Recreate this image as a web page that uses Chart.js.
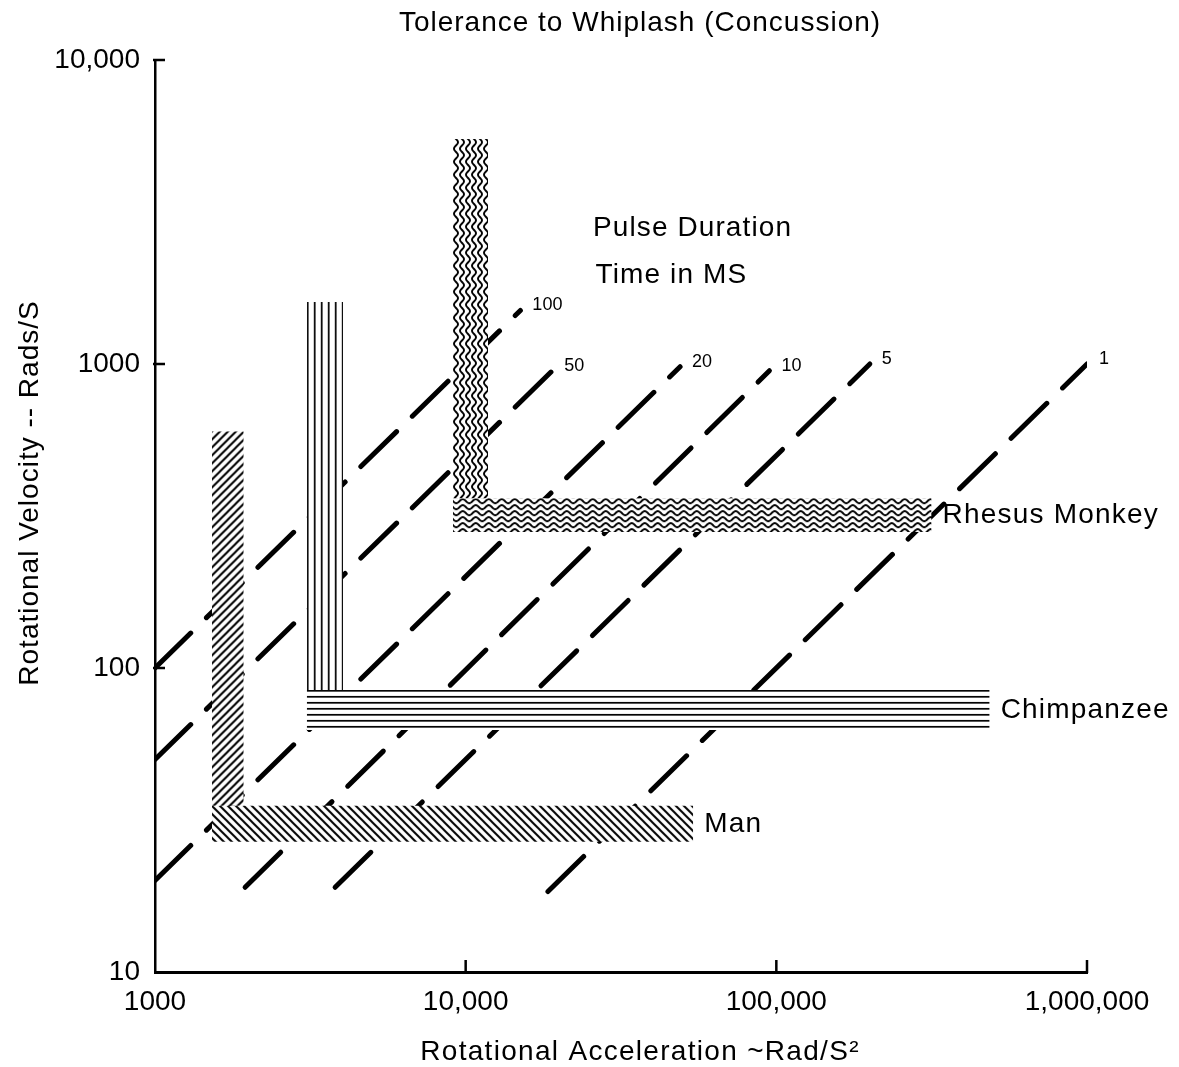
<!DOCTYPE html>
<html>
<head>
<meta charset="utf-8">
<title>Tolerance to Whiplash (Concussion)</title>
<script src="https://cdn.jsdelivr.net/npm/chart.js@4.4.1/dist/chart.umd.min.js"></script>
<style>
  html, body { margin: 0; padding: 0; background: #fff; }
  #wrap { width: 1179px; height: 1067px; }
</style>
</head>
<body>
<div id="wrap"><canvas id="whiplashChart" width="1179" height="1067"></canvas></div>
<script>
// axis ticks
const xTickValues = [1000, 10000, 100000, 1000000];
const xTickLabels = ['1000', '10,000', '100,000', '1,000,000'];
const yTickValues = [10, 100, 1000, 10000];
const yTickLabels = ['10', '100', '1000', '10,000'];

// lines of constant pulse duration (ms), end points
const pulseLabels = ['100', '50', '20', '10', '5', '1'];
const pulseStartAccel = [1000, 1000, 1000, 1950, 3800, 18400];
const pulseStartVel = [100, 50, 20, 19, 19, 18.4];
const pulseEndAccel = [15000, 19000, 49000, 95000, 200000, 1000000];
const pulseEndVel = [1500, 950, 980, 950, 1000, 1000];

// tolerance bands (L shaped)
const species = ['Rhesus Monkey', 'Chimpanzee', 'Man'];
const accelFrom = [9100, 3080, 1525];
const accelTo = [11800, 4030, 1930];
const accelEnd = [316000, 486000, 54000];
const velTop = [5500, 1600, 600];
const velHigh = [362, 84.7, 35.2];
const velLow = [280, 62.5, 26.8];

// free text
const noteText = ['Pulse Duration', 'Time in MS'];
const noteAccel = [25700, 26200];
const noteVel = [2800, 1960];

const FONT = '"Liberation Sans", Arial, Helvetica, sans-serif';

function tile(w, h, draw) {
  const c = document.createElement('canvas');
  c.width = w;
  c.height = h;
  const g = c.getContext('2d');
  g.fillStyle = '#fff';
  g.fillRect(0, 0, w, h);
  g.strokeStyle = '#000';
  g.fillStyle = '#000';
  draw(g, w, h);
  return g.createPattern(c, 'repeat');
}

const hatchUp = tile(8, 8, (g, s) => {
  g.lineWidth = 2;
  g.beginPath();
  for (let k = -1; k <= 1; k++) {
    g.moveTo(k * s - 1, s + 1);
    g.lineTo(k * s + s + 1, -1);
  }
  g.stroke();
});
const hatchDown = tile(8, 8, (g, s) => {
  g.lineWidth = 2;
  g.beginPath();
  for (let k = -1; k <= 1; k++) {
    g.moveTo(k * s - 1, -1);
    g.lineTo(k * s + s + 1, s + 1);
  }
  g.stroke();
});
const waveH = tile(13, 6, (g, w, h) => {
  g.lineWidth = 1.9;
  g.beginPath();
  for (let x = -2; x <= w + 2; x += 0.5) {
    const y = h / 2 + 2 * Math.sin(x / w * 2 * Math.PI);
    if (x === -2) g.moveTo(x, y); else g.lineTo(x, y);
  }
  g.stroke();
});
const waveV = tile(6, 13, (g, w, h) => {
  g.lineWidth = 1.9;
  g.beginPath();
  for (let y = -2; y <= h + 2; y += 0.5) {
    const x = w / 2 + 2 * Math.sin(y / h * 2 * Math.PI);
    if (y === -2) g.moveTo(x, y); else g.lineTo(x, y);
  }
  g.stroke();
});
const linesV = tile(7, 4, (g, w, h) => g.fillRect(0, 0, 1.7, h));
const linesH = tile(4, 6, (g, w, h) => g.fillRect(0, 0, w, 1.7));

const vertPatterns = [waveV, linesV, hatchUp];
const horizPatterns = [waveH, linesH, hatchDown];

const datasets = [];
pulseLabels.forEach((lab, i) => {
  datasets.push({
    label: lab + ' ms',
    data: [{x: pulseStartAccel[i], y: pulseStartVel[i]}, {x: pulseEndAccel[i], y: pulseEndVel[i]}],
    borderColor: '#000',
    borderWidth: 5,
    borderDash: [50, 22],
    borderCapStyle: 'round',
    pointRadius: 0,
    fill: false,
    order: 2
  });
});
species.forEach((name, i) => {
  datasets.push({
    label: name + ' velocity limb',
    data: [{x: accelFrom[i], y: velTop[i]}, {x: accelTo[i], y: velTop[i]}],
    fill: {value: velHigh[i]},
    backgroundColor: vertPatterns[i],
    borderColor: 'rgba(0,0,0,0)',
    borderWidth: 1,
    pointRadius: 0,
    order: 1
  });
  datasets.push({
    label: name + ' acceleration limb',
    data: [{x: accelFrom[i], y: velHigh[i]}, {x: accelEnd[i], y: velHigh[i]}],
    fill: {value: velLow[i]},
    backgroundColor: horizPatterns[i],
    borderColor: 'rgba(0,0,0,0)',
    borderWidth: 1,
    pointRadius: 0,
    order: 1
  });
});

function text(ctx, str, x, y, size, align, spacing) {
  ctx.save();
  ctx.fillStyle = '#000';
  ctx.font = size + 'px ' + FONT;
  ctx.letterSpacing = (spacing || 0) + 'px';
  ctx.textAlign = align || 'left';
  ctx.textBaseline = 'middle';
  ctx.fillText(str, x, y);
  ctx.restore();
}

const whiplashPlugin = {
  id: 'whiplash',
  beforeDatasetsDraw(chart) {
    const xs = chart.scales.x, ys = chart.scales.y;
    species.forEach((name, i) => {
      const left = xs.getPixelForValue(accelFrom[i]);
      vertPatterns[i].setTransform(new DOMMatrix([1, 0, 0, 1, left, ys.getPixelForValue(velTop[i])]));
      horizPatterns[i].setTransform(new DOMMatrix([1, 0, 0, 1, left, ys.getPixelForValue(velHigh[i])]));
    });
  },
  afterDatasetsDraw(chart) {
    const ctx = chart.ctx, xs = chart.scales.x, ys = chart.scales.y;
    pulseLabels.forEach((lab, i) => {
      text(ctx, lab, xs.getPixelForValue(pulseEndAccel[i]) + 12, ys.getPixelForValue(pulseEndVel[i]) - 5, 18);
    });
    species.forEach((name, i) => {
      const y = (ys.getPixelForValue(velHigh[i]) + ys.getPixelForValue(velLow[i])) / 2;
      text(ctx, name, xs.getPixelForValue(accelEnd[i]) + 11, y, 28, 'left', 1.2);
    });
    noteText.forEach((str, i) => {
      text(ctx, str, xs.getPixelForValue(noteAccel[i]), ys.getPixelForValue(noteVel[i]), 28, 'left', 1.1);
    });
  },
  afterDraw(chart) {
    const ctx = chart.ctx, xs = chart.scales.x, ys = chart.scales.y;
    const area = chart.chartArea;
    ctx.save();
    ctx.strokeStyle = '#000';
    ctx.lineWidth = 2.5;
    ctx.beginPath();
    yTickValues.slice(1).forEach(v => {
      const py = ys.getPixelForValue(v);
      ctx.moveTo(area.left - 2, py);
      ctx.lineTo(area.left + 10, py);
    });
    xTickValues.slice(1).forEach(v => {
      const px = xs.getPixelForValue(v);
      ctx.moveTo(px, area.bottom + 1);
      ctx.lineTo(px, area.bottom - 12);
    });
    ctx.stroke();
    ctx.restore();

    text(ctx, 'Tolerance to Whiplash (Concussion)', 640, 23, 28, 'center', 1);
    text(ctx, 'Rotational Acceleration ~Rad/S\u00b2', 640, 1052, 28, 'center', 1.3);
    ctx.save();
    ctx.translate(30, 493);
    ctx.rotate(-Math.PI / 2);
    text(ctx, 'Rotational Velocity -- Rads/S', 0, 0, 28, 'center', 1);
    ctx.restore();
  }
};

new Chart(document.getElementById('whiplashChart'), {
  type: 'line',
  data: { datasets: datasets },
  options: {
    responsive: false,
    animation: false,
    events: [],
    layout: { padding: { top: 60, right: 92, bottom: 0, left: 0 } },
    plugins: {
      legend: { display: false },
      tooltip: { enabled: false },
      title: { display: false }
    },
    scales: {
      x: {
        type: 'logarithmic',
        position: 'bottom',
        min: 1000,
        max: 1000000,
        afterBuildTicks: s => { s.ticks = xTickValues.map(v => ({ value: v })); },
        afterFit: s => { s.height = 95; },
        ticks: {
          autoSkip: false,
          maxRotation: 0,
          padding: 13,
          color: '#000',
          font: { family: FONT, size: 28 },
          callback: (v, i) => xTickLabels[i]
        },
        grid: { display: false, drawTicks: false },
        border: { display: true, color: '#000', width: 3 }
      },
      y: {
        type: 'logarithmic',
        position: 'left',
        min: 10,
        max: 10000,
        afterBuildTicks: s => { s.ticks = yTickValues.map(v => ({ value: v })); },
        afterFit: s => { s.width = 155; },
        ticks: {
          autoSkip: false,
          padding: 15,
          color: '#000',
          font: { family: FONT, size: 28 },
          callback: (v, i) => yTickLabels[i]
        },
        grid: { display: false, drawTicks: false },
        border: { display: true, color: '#000', width: 2.5 }
      }
    }
  },
  plugins: [whiplashPlugin]
});
</script>
</body>
</html>
